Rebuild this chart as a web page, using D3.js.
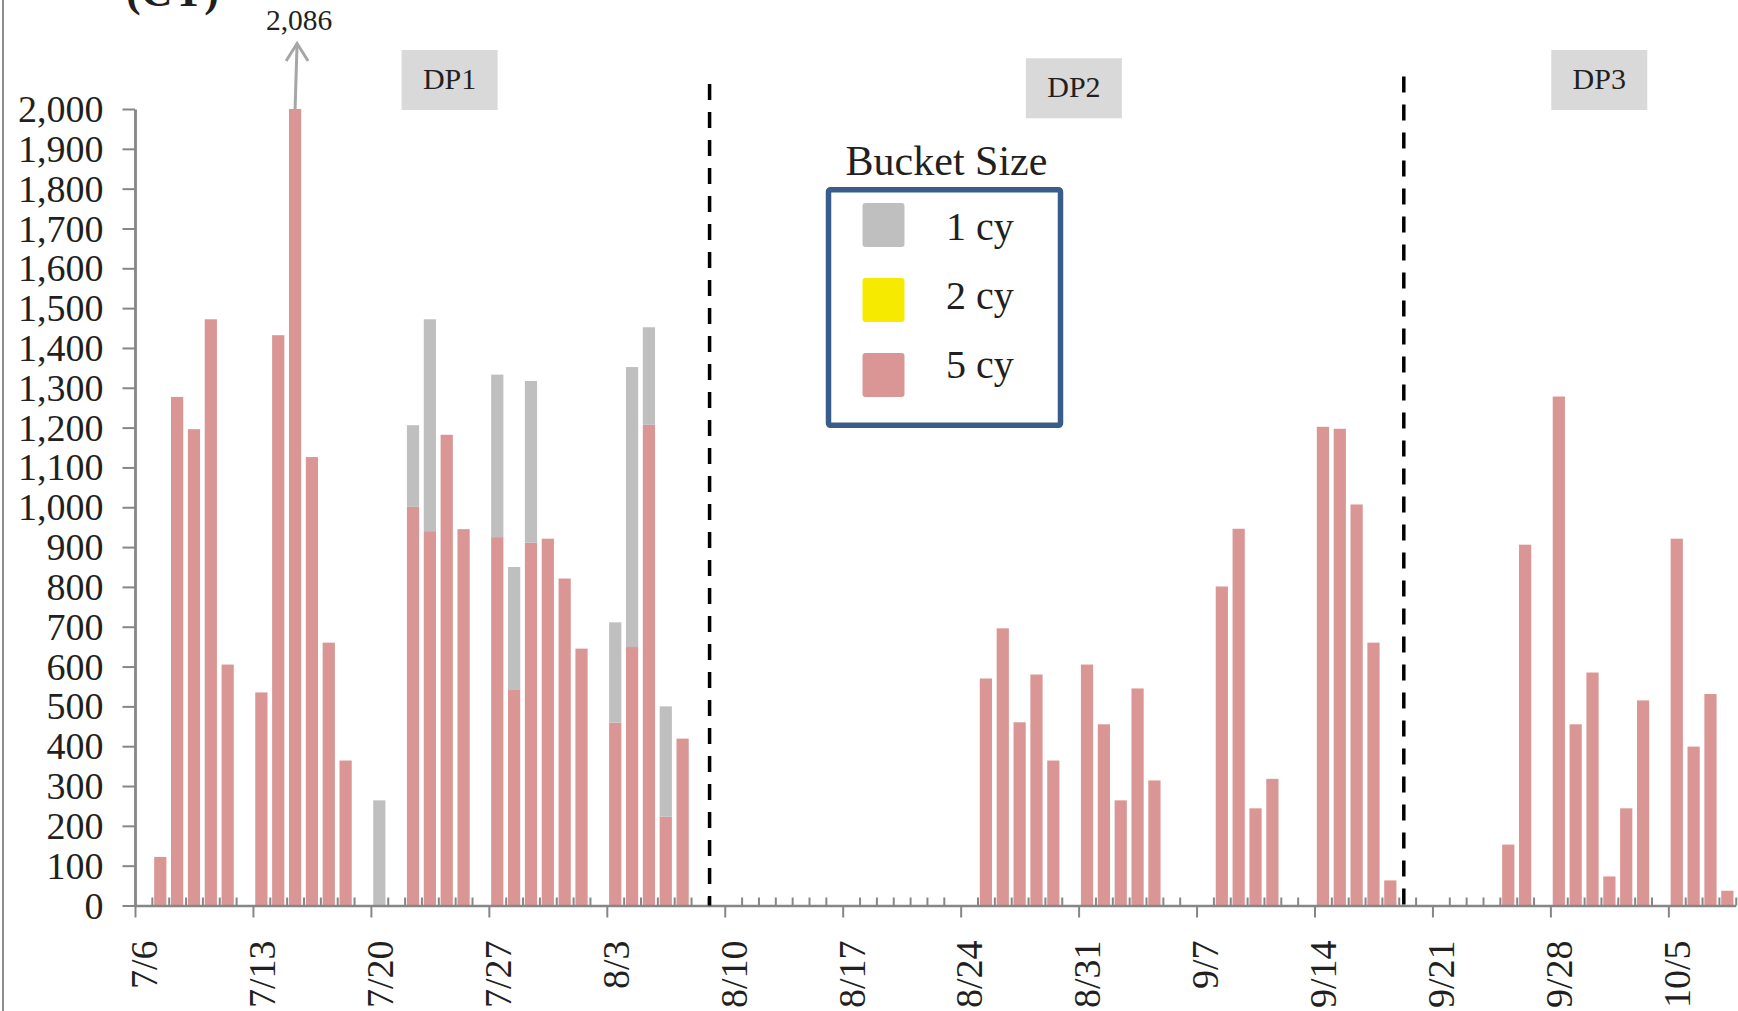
<!DOCTYPE html>
<html><head><meta charset="utf-8">
<script src="https://cdn.jsdelivr.net/npm/d3@7"></script>
<style>body{margin:0;background:#fff;} svg{display:block;}</style>
</head><body><svg id="c" width="1738" height="1011"></svg>
<script>
// ---------------- data ----------------
const dates = ["7/7","7/8","7/9","7/10","7/11","7/13","7/14","7/15","7/16","7/17","7/18",
  "7/20","7/22","7/23","7/24","7/25","7/27","7/28","7/29","7/30","7/31","8/1",
  "8/3","8/4","8/5","8/6","8/7",
  "8/25","8/26","8/27","8/28","8/29","8/31","9/1","9/2","9/3","9/4",
  "9/8","9/9","9/10","9/11","9/14","9/15","9/16","9/17","9/18",
  "9/25","9/26","9/28","9/29","9/30","10/1","10/2","10/3","10/5","10/6","10/7","10/8"];
const cy1 = [0,0,0,0,0,0,0,0,0,0,0,
  264,205,532,0,0,408,307,406,0,0,0,
  252,703,245,277,0,
  0,0,0,0,0,0,0,0,0,0,
  0,0,0,0,0,0,0,0,0,
  0,0,0,0,0,0,0,0,0,0,0,0];
const cy2 = dates.map(() => 0);
const cy5 = [122,1277,1196,1472,605,535,1432,2086,1126,660,364,
  0,1001,940,1182,945,925,543,911,921,821,645,
  459,649,1207,223,419,
  570,696,460,580,364,605,455,264,545,314,
  801,946,244,318,1202,1197,1007,660,63,
  153,906,1278,455,585,73,244,515,921,399,531,37];
const xTickLabels = ["7/6","7/13","7/20","7/27","8/3","8/10","8/17","8/24","8/31","9/7","9/14","9/21","9/28","10/5"];
const yTickValues = [0,100,200,300,400,500,600,700,800,900,1000,1100,1200,1300,1400,1500,1600,1700,1800,1900,2000];
const seriesKeys = ["cy5","cy2","cy1"];
const legendLabels = ["1 cy","2 cy","5 cy"];
const legendKeys = ["cy1","cy2","cy5"];
const phaseLabels = ["DP1","DP2","DP3"];
const phaseDividers = ["8/9","9/19"];   // boundaries between phases (date + fraction below)
const peakLabel = "2,086";
const axisTitle = "(CY)";
const legendTitle = "Bucket Size";

// ---------------- styles / layout ----------------
const colors = {cy1:"#BFBFBF", cy2:"#F6EB00", cy5:"#D99694"};
const font = "'Liberation Serif','Times New Roman',serif";
const txt = "#231F20";
const axisGrey = "#868686";
const W = 1738, H = 1011;
const X0 = 135, X1 = 1735.75, Y0 = 905.5, Y1 = 109;
const nDays = 95;

const parse = d3.timeParse("%m/%d/%Y");
const start = parse("7/6/2015");
const dayIdx = s => d3.timeDay.count(start, parse(s + "/2015"));

const svg = d3.select("#c");
svg.append("rect").attr("width", W).attr("height", H).attr("fill", "#fff");

const x = d3.scaleLinear().domain([0, nDays]).range([X0, X1]);
const y = d3.scaleLinear().domain([0, 2000]).range([Y0, Y1]);
const dayW = x(1) - x(0);
const barW = dayW * 0.725;

// frame line on the left
svg.append("line").attr("x1", 3).attr("x2", 3).attr("y1", 0).attr("y2", H)
  .attr("stroke", "#8c8c8c").attr("stroke-width", 2);

// ---------------- bars ----------------
const rows = dates.map((d, i) => ({day: dayIdx(d), cy1: cy1[i], cy2: cy2[i], cy5: cy5[i]}));
const stacked = d3.stack().keys(seriesKeys)(rows);
const clampV = v => Math.min(v, 2000);
svg.append("g").selectAll("g").data(stacked).join("g")
  .attr("fill", s => colors[s.key])
  .selectAll("rect").data(s => s.filter(p => p[1] > p[0])).join("rect")
  .attr("x", p => x(p.data.day + 0.5) - barW / 2)
  .attr("width", barW)
  .attr("y", p => y(clampV(p[1])))
  .attr("height", p => y(clampV(p[0])) - y(clampV(p[1])));

// ---------------- axes ----------------
const yAxis = svg.append("g").attr("transform", `translate(${X0},0)`)
  .call(d3.axisLeft(y).tickValues(yTickValues).tickFormat(d3.format(",")).tickSize(12.5).tickSizeOuter(0).tickPadding(19));
yAxis.select(".domain").attr("stroke", axisGrey).attr("stroke-width", 2.8);
yAxis.selectAll(".tick line").attr("stroke", axisGrey).attr("stroke-width", 2);
yAxis.selectAll(".tick text").attr("font-family", font).attr("font-size", 38).attr("fill", txt).attr("dy", "0.33em");

const majorDays = xTickLabels.map(dayIdx);
const minorDays = d3.range(1, nDays + 1).filter(d => !majorDays.includes(d));
const xMinor = svg.append("g").attr("transform", `translate(0,${Y0})`)
  .call(d3.axisBottom(x).tickValues(minorDays).tickSize(-8).tickFormat(""));
xMinor.select(".domain").remove();
xMinor.selectAll(".tick line").attr("stroke", axisGrey).attr("stroke-width", 2);

const xMajor = svg.append("g").attr("transform", `translate(0,${Y0})`)
  .call(d3.axisBottom(x).tickValues(majorDays).tickSize(12).tickSizeOuter(0)
    .tickFormat((d, i) => xTickLabels[i]));
xMajor.select(".domain").attr("stroke", axisGrey).attr("stroke-width", 2.6);
xMajor.selectAll(".tick line").attr("stroke", axisGrey).attr("stroke-width", 2);
xMajor.selectAll(".tick text")
  .attr("font-family", font).attr("font-size", 38).attr("fill", txt)
  .attr("text-anchor", "end").attr("x", 0).attr("y", 0).attr("dy", "0.34em")
  .attr("transform", `translate(${dayW / 2},35) rotate(-90)`);

// ---------------- phase dividers ----------------
const dividerOffsets = [0.1, 0.3];
const dividerTops = [84, 76.5];
svg.append("g").selectAll("line").data(phaseDividers).join("line")
  .attr("x1", (d, i) => x(dayIdx(d) + dividerOffsets[i]))
  .attr("x2", (d, i) => x(dayIdx(d) + dividerOffsets[i]))
  .attr("y1", (d, i) => dividerTops[i]).attr("y2", Y0)
  .attr("stroke", "#000").attr("stroke-width", 3.5).attr("stroke-dasharray", "16,12");

// ---------------- phase labels ----------------
const phaseCenters = [18.67, 55.72, 86.9];
const phaseTops = [50, 58.3, 50];
const pg = svg.append("g").selectAll("g").data(phaseLabels).join("g")
  .attr("transform", (d, i) => `translate(${x(phaseCenters[i])},${phaseTops[i]})`);
pg.append("rect").attr("x", -48).attr("y", 0).attr("width", 96).attr("height", 60).attr("fill", "#D9D9D9");
pg.append("text").attr("x", 0).attr("y", 39).attr("text-anchor", "middle")
  .attr("font-family", font).attr("font-size", 30).attr("fill", txt).text(d => d);

// ---------------- peak annotation ----------------
const peakDay = dayIdx("7/15") + 0.5;
const ax = x(peakDay);
svg.append("line").attr("x1", ax).attr("y1", y(2000)).attr("x2", ax + 2).attr("y2", 43.5)
  .attr("stroke", "#A6A6A6").attr("stroke-width", 3);
svg.append("polyline").attr("points", `${ax - 9},61 ${ax + 2},43.5 ${ax + 13},61`)
  .attr("fill", "none").attr("stroke", "#A6A6A6").attr("stroke-width", 3).attr("stroke-linejoin", "miter");
svg.append("text").attr("x", ax + 4).attr("y", 30).attr("text-anchor", "middle")
  .attr("font-family", font).attr("font-size", 29.5).attr("fill", txt).text(peakLabel);

// axis title (cut at top, as in the original)
svg.append("text").attr("x", 126).attr("y", 6).attr("font-family", font).attr("font-size", 44)
  .attr("font-weight", "bold").attr("fill", txt).text(axisTitle);

// ---------------- legend ----------------
const lg = svg.append("g");
lg.append("text").attr("x", 946.5).attr("y", 175).attr("text-anchor", "middle")
  .attr("font-family", font).attr("font-size", 42).attr("fill", txt).text(legendTitle);
lg.append("rect").attr("x", 828.5).attr("y", 189.7).attr("width", 232).attr("height", 235.6)
  .attr("rx", 2).attr("fill", "#fff").attr("stroke", "#385D8A").attr("stroke-width", 5.5);
const items = lg.selectAll("g.item").data(legendLabels).join("g").attr("class", "item");
items.append("rect").attr("x", 862.5).attr("y", (d, i) => 203 + i * 75).attr("width", 42).attr("height", 44)
  .attr("rx", 3).attr("fill", (d, i) => colors[legendKeys[i]]);
items.append("text").attr("x", 946).attr("y", (d, i) => 240 + i * 69)
  .attr("font-family", font).attr("font-size", 40).attr("fill", txt).text(d => d);
</script></body></html>
